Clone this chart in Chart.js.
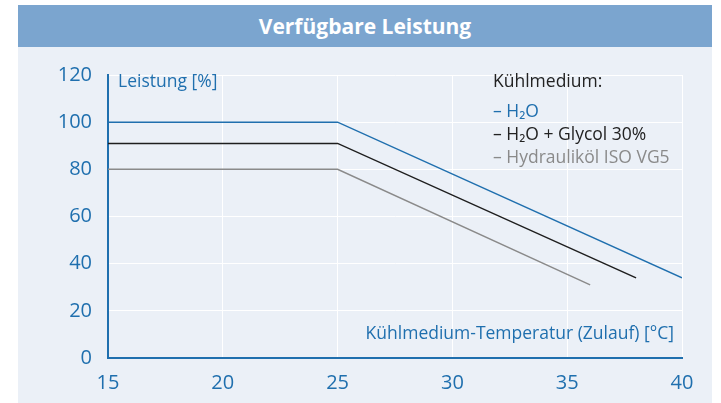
<!DOCTYPE html>
<html>
<head>
<meta charset="utf-8">
<script src="https://cdn.jsdelivr.net/npm/chart.js@4"></script>
<style>
  body { margin: 0; background: #fff; font-family: "Open Sans", sans-serif; }
  #wrap { position: absolute; left: 18px; top: 5px; width: 694px; height: 398px; background: #ebf0f7; }
  #title { height: 42px; background: #7ba5cf; color: #fff; font-weight: bold; font-size: 21px;
           text-align: center; line-height: 42px; }
  #box { position: absolute; left: 0; top: 42px; width: 694px; height: 356px; }
  .lbl { position: absolute; white-space: nowrap; font-size: 17.5px; line-height: 18px; }
</style>
</head>
<body>
<div id="wrap">
  <div id="title">Verfügbare Leistung</div>
  <div id="box">
    <canvas id="chart" width="694" height="356"></canvas>
    <div class="lbl" style="left:100px;top:24px;color:#1f6fae">Leistung [%]</div>
    <div class="lbl" style="right:38px;top:276px;color:#1f6fae">Kühlmedium-Temperatur (Zulauf) [°C]</div>
    <div class="lbl" style="left:475px;top:24px;color:#222">Kühlmedium:</div>
    <div class="lbl" style="left:475px;top:54px;color:#1f6fae">– H₂O</div>
    <div class="lbl" style="left:475px;top:77px;color:#222">– H₂O + Glycol 30%</div>
    <div class="lbl" style="left:475px;top:100px;color:#8a8a8a">– Hydrauliköl ISO VG5</div>
  </div>
</div>
<script>
const seriesNames = ['H₂O', 'H₂O + Glycol 30%', 'Hydrauliköl ISO VG5'];
const h2oTemp = [15, 25, 40];
const h2oPower = [100, 100, 34];
const glycolTemp = [15, 25, 38];
const glycolPower = [91, 91, 34];
const oilTemp = [15, 25, 36];
const oilPower = [80, 80, 31];
const seriesColors = ['#1f6fae', '#1e1e1e', '#8a8a8a'];

function toPoints(xs, ys) {
    return xs.map((x, i) => ({ x: x, y: ys[i] }));
}

const blue = '#1f6fae';

new Chart(document.getElementById('chart'), {
    type: 'line',
    data: {
        datasets: [
            { label: seriesNames[0], data: toPoints(h2oTemp, h2oPower) },
            { label: seriesNames[1], data: toPoints(glycolTemp, glycolPower) },
            { label: seriesNames[2], data: toPoints(oilTemp, oilPower) },
        ].map((d, i) => Object.assign(d, {
            borderColor: seriesColors[i],
            borderWidth: 1.5,
            pointRadius: 0,
            tension: 0,
            fill: false,
        }))
    },
    options: {
        responsive: false,
        animation: false,
        events: [],
        layout: { padding: { left: 0, top: 26, right: 30, bottom: 0 } },
        plugins: { legend: { display: false }, tooltip: { enabled: false } },
        scales: {
            x: {
                type: 'linear',
                min: 15,
                max: 40,
                ticks: { stepSize: 5, color: blue, padding: 13, font: { family: 'Open Sans', size: 20 } },
                grid: { color: '#ffffff', lineWidth: 1, drawTicks: false },
                border: { color: blue, width: 2 },
                afterFit: s => { s.height = 45; }
            },
            y: {
                min: 0,
                max: 120,
                ticks: { stepSize: 20, color: blue, padding: 16, font: { family: 'Open Sans', size: 20 } },
                grid: { color: '#ffffff', lineWidth: 1, drawTicks: false },
                border: { color: blue, width: 2 },
                afterFit: s => { s.width = 90; }
            }
        }
    }
});
</script>
</body>
</html>
